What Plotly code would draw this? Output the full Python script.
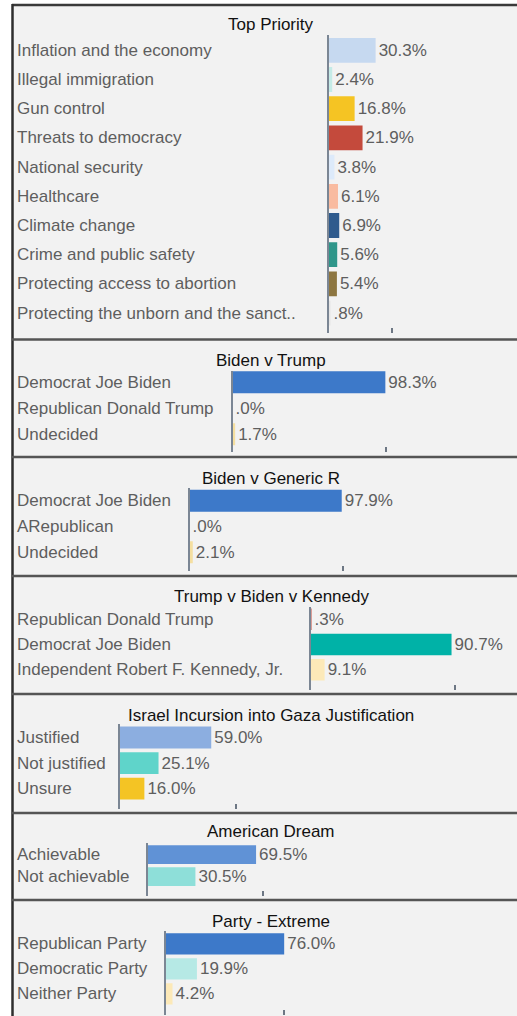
import plotly.graph_objects as go

W, H = 517, 1016

# ---------------- data ----------------
titles = [
    "Top Priority",
    "Biden v Trump",
    "Biden v Generic R",
    "Trump v Biden v Kennedy",
    "Israel Incursion into Gaza Justification",
    "American Dream",
    "Party - Extreme",
]

cats_priority = [
    "Inflation and the economy",
    "Illegal immigration",
    "Gun control",
    "Threats to democracy",
    "National security",
    "Healthcare",
    "Climate change",
    "Crime and public safety",
    "Protecting access to abortion",
    "Protecting the unborn and the sanct..",
]
vals_priority = [30.3, 2.4, 16.8, 21.9, 3.8, 6.1, 6.9, 5.6, 5.4, 0.8]

cats_biden_trump = ["Democrat Joe Biden", "Republican Donald Trump", "Undecided"]
vals_biden_trump = [98.3, 0.0, 1.7]

cats_biden_generic = ["Democrat Joe Biden", "ARepublican", "Undecided"]
vals_biden_generic = [97.9, 0.0, 2.1]

cats_three_way = ["Republican Donald Trump", "Democrat Joe Biden",
                  "Independent Robert F. Kennedy, Jr."]
vals_three_way = [0.3, 90.7, 9.1]

cats_israel = ["Justified", "Not justified", "Unsure"]
vals_israel = [59.0, 25.1, 16.0]

cats_dream = ["Achievable", "Not achievable"]
vals_dream = [69.5, 30.5]

cats_extreme = ["Republican Party", "Democratic Party", "Neither Party"]
vals_extreme = [76.0, 19.9, 4.2]

# single axis tick mark value per panel
tick_values = [41, 99, 99, 93, 75, 74, 76]

# ---------------- styles ----------------
colors = [
    ["#c6d9f0", "#c5ebe7", "#f5c423", "#c44a3c", "#ddeafa",
     "#f9bba0", "#2f5b8d", "#2f968a", "#8d7641", "#e6e6e6"],
    ["#3d79c9", "#c44a3c", "#f5dfa0"],
    ["#3d79c9", "#c44a3c", "#f5dfa0"],
    ["#c44a3c", "#00b2a7", "#fce9b8"],
    ["#8caee0", "#5fd4ca", "#f4c424"],
    ["#6092d6", "#8edfd9"],
    ["#3d79c9", "#b6e9e5", "#fce9b8"],
]

# panel geometry in pixels: axis line top/bottom, first row centre, row spacing,
# axis x position, title y
geo = [
    dict(top=35, bottom=333, c0=50.3, s=29.2, x0=328.5, ty=25),
    dict(top=371, bottom=452, c0=382.3, s=26.0, x0=232.5, ty=360),
    dict(top=488, bottom=571, c0=500.7, s=25.8, x0=189.5, ty=478),
    dict(top=606.7, bottom=690, c0=619.3, s=25.2, x0=310.5, ty=596.7),
    dict(top=724.3, bottom=809.3, c0=737.5, s=25.6, x0=119.5, ty=715),
    dict(top=842.7, bottom=896, c0=854.7, s=22.0, x0=148, ty=831.7),
    dict(top=930.7, bottom=1015, c0=943.8, s=25.0, x0=166, ty=921),
]
separators = [339.5, 457, 576, 694, 813, 900]

PX_PER_PCT = 1.555
X_RIGHT = 512
FONT = "Liberation Sans"
FS = 17
LABEL_COLOR = "#5e5e5e"

panels = [
    (cats_priority, vals_priority),
    (cats_biden_trump, vals_biden_trump),
    (cats_biden_generic, vals_biden_generic),
    (cats_three_way, vals_three_way),
    (cats_israel, vals_israel),
    (cats_dream, vals_dream),
    (cats_extreme, vals_extreme),
]


def fmt(v):
    s = f"{v:.1f}%"
    return s[1:] if s.startswith("0") else s


fig = go.Figure()
annotations = []
layout_axes = {}

for i, ((cats, vals), g) in enumerate(zip(panels, geo)):
    n = i + 1
    xa = "x" if n == 1 else f"x{n}"
    ya = "y" if n == 1 else f"y{n}"
    xkey = "xaxis" if n == 1 else f"xaxis{n}"
    ykey = "yaxis" if n == 1 else f"yaxis{n}"

    fig.add_trace(go.Bar(
        x=vals, y=cats, orientation="h",
        marker=dict(color=colors[i], line=dict(width=0)),
        text=[fmt(v) for v in vals], textposition="outside",
        textfont=dict(family=FONT, size=FS, color=LABEL_COLOR),
        constraintext="none", cliponaxis=False,
        xaxis=xa, yaxis=ya, showlegend=False, hoverinfo="skip",
    ))

    xr = (X_RIGHT - g["x0"]) / PX_PER_PCT
    idx_top = (g["top"] - g["c0"]) / g["s"]
    idx_bot = (g["bottom"] - g["c0"]) / g["s"]

    layout_axes[xkey] = dict(
        domain=[g["x0"] / W, X_RIGHT / W], range=[0, xr], anchor=ya,
        showgrid=False, zeroline=False, showline=False,
        ticks="inside", ticklen=5, tickwidth=2, tickcolor="#6d7784",
        tickvals=[tick_values[i]], showticklabels=False, fixedrange=True,
    )
    layout_axes[ykey] = dict(
        domain=[1 - g["bottom"] / H, 1 - g["top"] / H],
        range=[idx_bot, idx_top], anchor=xa, type="category",
        categoryorder="array", categoryarray=cats,
        showgrid=False, zeroline=False, showline=True,
        linecolor="#7b8694", linewidth=2, ticks="", showticklabels=False,
        fixedrange=True,
    )

    for c in cats:
        annotations.append(dict(
            x=15 / W, xref="paper", y=c, yref=ya, text=c, showarrow=False,
            xanchor="left", yanchor="middle",
            font=dict(family=FONT, size=FS, color=LABEL_COLOR),
        ))
    annotations.append(dict(
        x=271 / W, xref="paper", y=1 - g["ty"] / H, yref="paper",
        text=titles[i], showarrow=False, xanchor="center", yanchor="middle",
        font=dict(family=FONT, size=FS, color="#111111"),
    ))

shapes = [
    dict(type="rect", xref="paper", yref="paper", x0=12 / W, x1=1,
         y0=0, y1=1 - 5 / H, fillcolor="#f2f2f2", line=dict(width=0),
         layer="below"),
    dict(type="line", xref="paper", yref="paper", x0=12 / W, x1=1,
         y0=1 - 5 / H, y1=1 - 5 / H, line=dict(color="#3a3a3a", width=2.5)),
    dict(type="line", xref="paper", yref="paper", x0=12.5 / W, x1=12.5 / W,
         y0=0, y1=1 - 4 / H, line=dict(color="#2e2e2e", width=2.5)),
]
for sy in separators:
    shapes.append(dict(type="line", xref="paper", yref="paper",
                       x0=12 / W, x1=1, y0=1 - sy / H, y1=1 - sy / H,
                       line=dict(color="#555555", width=2.5)))

fig.update_layout(
    width=W, height=H, margin=dict(l=0, r=0, t=0, b=0),
    paper_bgcolor="white", plot_bgcolor="rgba(0,0,0,0)",
    bargap=0.15, annotations=annotations, shapes=shapes,
    font=dict(family=FONT, size=FS, color=LABEL_COLOR),
    **layout_axes,
)

fig.write_html(
    "out.html",
    config={"displayModeBar": False},
    post_script="document.body.style.margin='0';document.body.style.overflow='hidden';",
)
